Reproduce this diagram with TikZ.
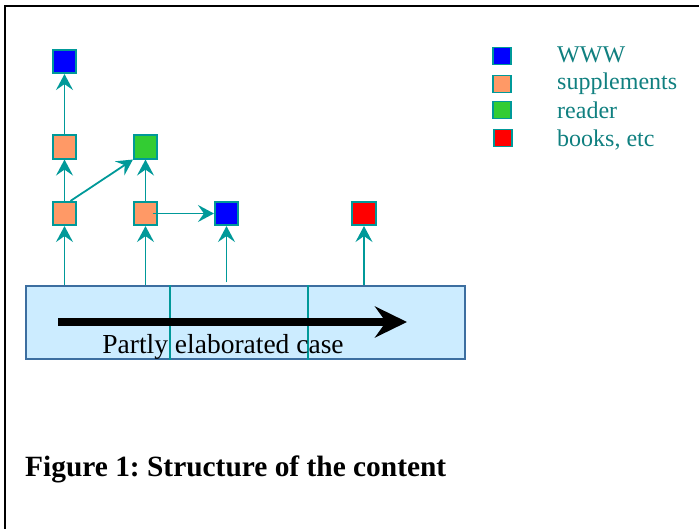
\documentclass[tikz,border=0pt]{standalone}
\usepackage{fontspec}
\setmainfont{Liberation Serif}
\usetikzlibrary{arrows.meta,calc}
\definecolor{tealc}{RGB}{0,153,153}
\definecolor{tealtext}{RGB}{16,128,128}
\definecolor{sqblue}{RGB}{0,0,255}
\definecolor{sqorange}{RGB}{255,153,102}
\definecolor{sqgreen}{RGB}{51,204,51}
\definecolor{sqred}{RGB}{255,0,0}
\definecolor{barfill}{RGB}{204,236,255}
\definecolor{barline}{RGB}{60,110,160}
\tikzset{
  sq/.style={draw=tealc, line width=1.6pt, minimum size=23.5pt, inner sep=0pt},
  lsq/.style={draw=tealc, line width=1.6pt, minimum width=18.5pt, minimum height=17pt, inner sep=0pt},
  conn/.style={draw=tealc, line width=1.8pt, -{Stealth[length=16pt,width=17pt,inset=6pt]}},
  legtext/.style={anchor=base west, inner sep=0pt, text=tealtext, font=\fontsize{24}{28}\selectfont},
}
\frenchspacing
\begin{document}
\begin{tikzpicture}[x=1pt,y=-1pt]
\useasboundingbox (0,0) rectangle (699,529);
\fill[white] (0,0) rectangle (699,529);
% frame
\draw[line width=2pt] (699,6) -- (5,6) -- (5,529);

% bar
\node[draw=barline, fill=barfill, line width=1.2pt, minimum width=439pt, minimum height=73pt, inner sep=0pt] (bar) at (245.5,322.5) {};
\draw[tealc, line width=1.3pt] (170,0 |- bar.north) -- (170,0 |- bar.south);
\draw[tealc, line width=1.3pt] (308,0 |- bar.north) -- (308,0 |- bar.south);
\draw[line width=8.5pt, -{Stealth[length=32pt,width=31pt,inset=11pt]}] (58,322) -- (407,322);
\node[anchor=base, inner sep=0pt, font=\fontsize{27.5}{30}\selectfont] (lbl) at (223,353) {Partly elaborated case};

% squares
\node[sq, fill=sqblue] (b1) at (64.5,61.5) {};
\node[sq, fill=sqorange] (o2) at (64.5,147) {};
\node[sq, fill=sqgreen] (g) at (145.5,147) {};
\node[sq, fill=sqorange] (o1) at (64.5,213.5) {};
\node[sq, fill=sqorange] (o3) at (145.5,213.5) {};
\node[sq, fill=sqblue] (b2) at (226.5,213.5) {};
\node[sq, fill=sqred] (r) at (364,213.5) {};

% connectors
\draw[conn] (o2.north) -- (b1.south);
\draw[conn] (o1.north) -- (o2.south);
\draw[conn] ([xshift=6pt]o1.north) -- (g.south west);
\draw[conn] (o3.north) -- (g.south);
\draw[conn] ([xshift=7pt]o3.center) -- (b2.west);
\draw[conn] (o1.south |- bar.north) -- (o1.south);
\draw[conn] (o3.south |- bar.north) -- (o3.south);
\draw[conn] ([yshift=3pt]b2.south |- bar.north) -- (b2.south);
\draw[conn] (r.south |- bar.north) -- (r.south);

% legend
\node[lsq, fill=sqblue] (l1) at (502,56) {};
\node[lsq, fill=sqorange] (l2) at (502,84) {};
\node[lsq, fill=sqgreen] (l3) at (502,110) {};
\node[lsq, fill=sqred] (l4) at (503,138) {};
\node[legtext] (t1) at (557,63) {WWW};
\node[legtext] (t2) at (557,90) {supplements};
\node[legtext] (t3) at (557,119) {reader};
\node[legtext] (t4) at (557,147) {books, etc};

% caption
\node[anchor=base west, inner sep=0pt, font=\bfseries\fontsize{29.4}{32}\selectfont] (cap) at (25,476) {Figure 1: Structure of the content};
\end{tikzpicture}
\end{document}
